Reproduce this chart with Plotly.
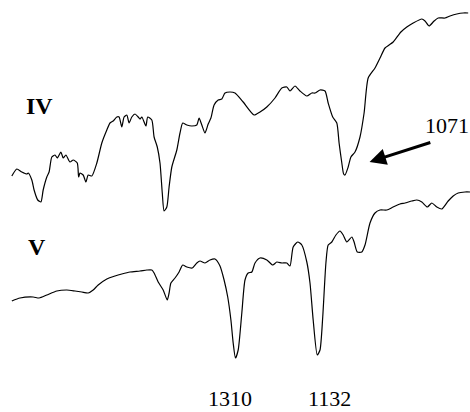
import plotly.graph_objects as go

# Wavenumber (cm-1) and relative transmittance (a.u.)
wn_iv = [1804, 1793, 1782, 1771, 1768, 1760, 1755, 1747, 1740, 1735, 1727, 1722, 1716, 1709, 1704,
         1696, 1691, 1685, 1676, 1669, 1660, 1657, 1654, 1647, 1641, 1636, 1628, 1617, 1606, 1595,
         1588, 1581, 1573, 1568, 1562, 1557, 1551, 1546, 1540, 1533, 1526, 1522, 1518, 1509, 1505,
         1496, 1491, 1484, 1478, 1473, 1469, 1463, 1458, 1452, 1441, 1434, 1428, 1419, 1408, 1397,
         1392, 1386, 1379, 1372, 1366, 1359, 1350, 1342, 1335, 1324, 1313, 1295, 1271, 1258, 1243,
         1225, 1210, 1199, 1192, 1181, 1170, 1155, 1144, 1137, 1126, 1115, 1108, 1098, 1089, 1084,
         1078, 1074, 1071, 1064, 1058, 1049, 1038, 1029, 1020, 1005, 994, 983, 974, 965, 948,
         935, 921, 902, 895, 886, 875, 866, 851, 840, 825, 811, 800]
t_iv = [236, 243, 240, 238, 239, 232, 222, 212, 210, 222, 235, 240, 255, 257, 254,
        260, 254, 257, 250, 252, 249, 235, 239, 237, 230, 237, 236, 249, 269, 282,
        289, 291, 295, 295, 285, 295, 297, 289, 295, 298, 295, 293, 295, 286, 295,
        292, 275, 265, 249, 219, 201, 205, 225, 245, 262, 279, 289, 287, 286, 287,
        294, 287, 279, 288, 294, 307, 312, 313, 319, 320, 319, 310, 297, 300, 305,
        314, 324, 325, 321, 326, 321, 316, 319, 319, 322, 321, 309, 295, 289, 269,
        249, 238, 237, 245, 255, 260, 275, 299, 334, 344, 354, 364, 367, 370, 380,
        385, 389, 393, 391, 386, 391, 394, 394, 396, 398, 399, 399]

wn_v = [1804, 1786, 1757, 1744, 1727, 1705, 1683, 1665, 1650, 1636, 1625, 1614, 1595, 1577, 1562,
        1544, 1522, 1507, 1496, 1491, 1482, 1471, 1462, 1458, 1454, 1445, 1436, 1428, 1419, 1407,
        1397, 1390, 1379, 1368, 1357, 1346, 1337, 1329, 1322, 1317, 1312, 1306, 1298, 1291, 1284,
        1276, 1269, 1258, 1243, 1230, 1221, 1210, 1199, 1192, 1185, 1175, 1166, 1155, 1148, 1141,
        1132, 1126, 1120, 1113, 1108, 1100, 1091, 1082, 1075, 1067, 1056, 1051, 1044, 1034, 1027,
        1016, 1005, 994, 979, 965, 950, 939, 924, 913, 902, 890, 880, 869, 858, 844,
        833, 822, 807, 796]
t_v = [111, 114, 115, 114, 117, 121, 122, 121, 120, 119, 122, 127, 133, 136, 138,
       140, 141, 142, 142, 139, 130, 122, 112, 119, 129, 134, 140, 147, 145, 144,
       149, 151, 149, 152, 153, 146, 132, 115, 92, 69, 54, 62, 99, 132, 139,
       140, 149, 154, 152, 147, 150, 149, 149, 146, 165, 170, 167, 150, 129, 92,
       57, 62, 95, 149, 167, 170, 177, 181, 177, 170, 175, 170, 160, 160, 167,
       189, 199, 202, 202, 205, 208, 209, 211, 212, 210, 205, 209, 205, 203, 211,
       216, 219, 220, 220]

series_labels = ["IV", "V"]
peak_labels = ["1071", "1310", "1132"]

fig = go.Figure()
fig.add_trace(go.Scatter(x=wn_iv, y=t_iv, mode="lines", line=dict(color="black", width=1.2, shape="spline", smoothing=0.6),
                         showlegend=False, hoverinfo="skip"))
fig.add_trace(go.Scatter(x=wn_v, y=t_v, mode="lines", line=dict(color="black", width=1.2, shape="spline", smoothing=0.6),
                         showlegend=False, hoverinfo="skip"))

serif = "Times New Roman"
fig.add_annotation(x=1744, y=306, text="<b>%s</b>" % series_labels[0], showarrow=False,
                   font=dict(family=serif, size=24, color="black"))
fig.add_annotation(x=1749, y=165, text="<b>%s</b>" % series_labels[1], showarrow=False,
                   font=dict(family=serif, size=24, color="black"))
fig.add_annotation(x=847, y=287, text=peak_labels[0], showarrow=False,
                   font=dict(family=serif, size=22, color="black"))
fig.add_annotation(x=1017, y=250, ax=880, ay=270, axref="x", ayref="y", text="",
                   showarrow=True, arrowhead=2, arrowsize=1.1, arrowwidth=3, arrowcolor="black")
fig.add_annotation(x=1324, y=14, text=peak_labels[1], showarrow=False,
                   font=dict(family=serif, size=22, color="black"))
fig.add_annotation(x=1106, y=14, text=peak_labels[2], showarrow=False,
                   font=dict(family=serif, size=22, color="black"))

fig.update_layout(
    width=470, height=412,
    margin=dict(l=0, r=0, t=0, b=0),
    paper_bgcolor="white", plot_bgcolor="white",
    xaxis=dict(range=[1830, 796], visible=False, showgrid=False, zeroline=False),
    yaxis=dict(range=[0, 412], visible=False, showgrid=False, zeroline=False),
)
fig.write_html("out.html")
